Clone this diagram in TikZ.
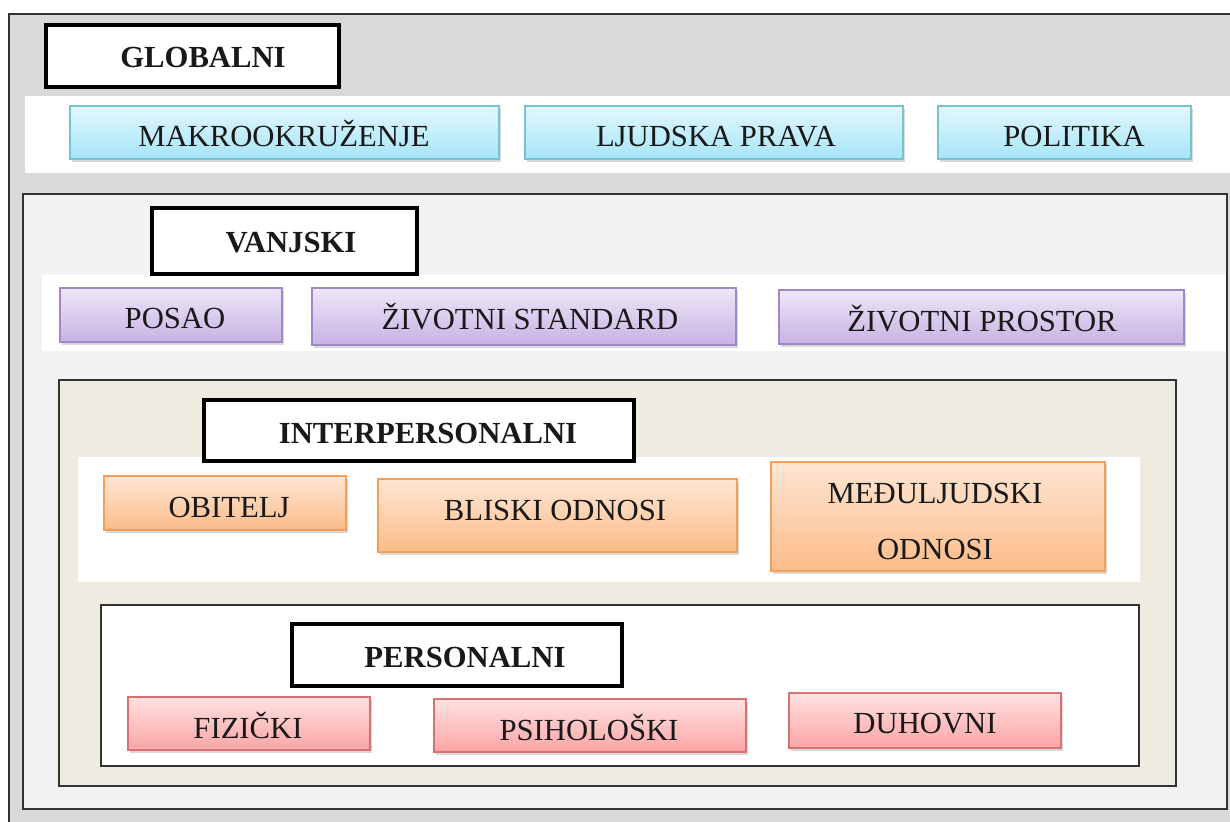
\documentclass[tikz,border=0pt]{standalone}
\usepackage{fontspec}
\setmainfont{Liberation Serif}
\usetikzlibrary{fit,shadows}
\definecolor{outergray}{HTML}{D9D9D9}
\definecolor{vanfill}{HTML}{F2F2F2}
\definecolor{intfill}{HTML}{EEECE1}
\definecolor{regline}{HTML}{333333}
\definecolor{bluetop}{HTML}{E2F7FD}
\definecolor{bluebot}{HTML}{A6E5F8}
\definecolor{blueline}{HTML}{78C2D6}
\definecolor{purtop}{HTML}{EEE7F7}
\definecolor{purbot}{HTML}{C8B2E4}
\definecolor{purline}{HTML}{A088C8}
\definecolor{ortop}{HTML}{FEE6D5}
\definecolor{orbot}{HTML}{FBBC88}
\definecolor{orline}{HTML}{F59E58}
\definecolor{redtop}{HTML}{FFE2E2}
\definecolor{redbot}{HTML}{FCA4A4}
\definecolor{redline}{HTML}{D87272}
\begin{document}
\begin{tikzpicture}[x=0.75pt,y=-0.75pt,
  region/.style={draw=regline,line width=1.5pt,inner sep=0pt},
  lblbox/.style={draw=black,fill=white,line width=2.4pt,inner sep=0pt},
  band/.style={fill=white,inner sep=0pt},
  cbox/.style={inner sep=0pt,line width=0.8pt,
    drop shadow={shadow xshift=1.5pt,shadow yshift=-2.2pt,opacity=0.3}},
  bluebox/.style={cbox,draw=blueline,top color=bluetop,bottom color=bluebot},
  purbox/.style={cbox,draw=purline,top color=purtop,bottom color=purbot},
  orbox/.style={cbox,draw=orline,top color=ortop,bottom color=orbot},
  redbox/.style={cbox,draw=redline,top color=redtop,bottom color=redbot},
  txt/.style={font=\fontsize{23}{28}\selectfont,text height=15.2pt,text depth=0pt,inner sep=0pt,text=black!90},
  btxt/.style={txt,font=\fontsize{23}{28}\selectfont\bfseries}
]
\useasboundingbox (0,0) rectangle (1230,821);
\clip (0,0) rectangle (1230,821);
\fill[white] (0,0) rectangle (1230,821);

% GLOBALNI level
\node[region,fill=outergray,fit={(9,14) (1245,835)}] (glob) {};
\node[band,fit={(25,96) (1232,173)}] (globband) {};
\node[lblbox,fit={(46,25) (339,87)}] (globlbl) {};
\node[btxt] (globtxt) at (203,57) {GLOBALNI};
\node[bluebox,fit={(70,106) (499,159)}] (makro) {};
\node[txt] (makrotxt) at (284,136) {MAKROOKRUŽENJE};
\node[bluebox,fit={(525,106) (903,159)}] (ljud) {};
\node[txt] (ljudtxt) at (716,136) {LJUDSKA PRAVA};
\node[bluebox,fit={(938,106) (1191,159)}] (poli) {};
\node[txt] (politxt) at (1074,136) {POLITIKA};

% VANJSKI level
\node[region,fill=vanfill,fit={(23,194) (1227,809)}] (van) {};
\node[band,fit={(42,275) (1226,351)}] (vanband) {};
\node[lblbox,fit={(152,208) (417,274)}] (vanlbl) {};
\node[btxt] (vantxt) at (291,242) {VANJSKI};
\node[purbox,fit={(60,288) (282,342)}] (posao) {};
\node[txt] (posaotxt) at (175,318) {POSAO};
\node[purbox,fit={(312,288) (736,345)}] (stand) {};
\node[txt] (standtxt) at (530,319) {ŽIVOTNI STANDARD};
\node[purbox,fit={(779,290) (1184,344)}] (pros) {};
\node[txt] (prostxt) at (982,321) {ŽIVOTNI PROSTOR};

% INTERPERSONALNI level
\node[region,fill=intfill,fit={(59,380) (1176,786)}] (inter) {};
\node[band,fit={(78,457) (1140,582)}] (interband) {};
\node[lblbox,fit={(204,400) (634,461)}] (interlbl) {};
\node[btxt] (intertxt) at (428,433) {INTERPERSONALNI};
\node[orbox,fit={(104,476) (346,530)}] (obit) {};
\node[txt] (obittxt) at (229,507) {OBITELJ};
\node[orbox,fit={(378,479) (737,552)}] (blis) {};
\node[txt] (blistxt) at (555,510) {BLISKI ODNOSI};
\node[orbox,fit={(771,462) (1105,571)}] (medu) {};
\node[txt,align=center,font=\fontsize{23}{42}\selectfont,text height=,text depth=] (medutxt) at (935,521) {MEĐULJUDSKI\\ODNOSI};

% PERSONALNI level
\node[region,fill=white,fit={(101,605) (1139,766)}] (pers) {};
\node[lblbox,fit={(292,624) (622,686)}] (perslbl) {};
\node[btxt] (perstxt) at (465,657) {PERSONALNI};
\node[redbox,fit={(128,697) (370,750)}] (fiz) {};
\node[txt] (fiztxt) at (248,728) {FIZIČKI};
\node[redbox,fit={(434,699) (746,752)}] (psih) {};
\node[txt] (psihtxt) at (589,730) {PSIHOLOŠKI};
\node[redbox,fit={(789,693) (1061,748)}] (duh) {};
\node[txt] (duhtxt) at (925,723) {DUHOVNI};
\end{tikzpicture}
\end{document}
